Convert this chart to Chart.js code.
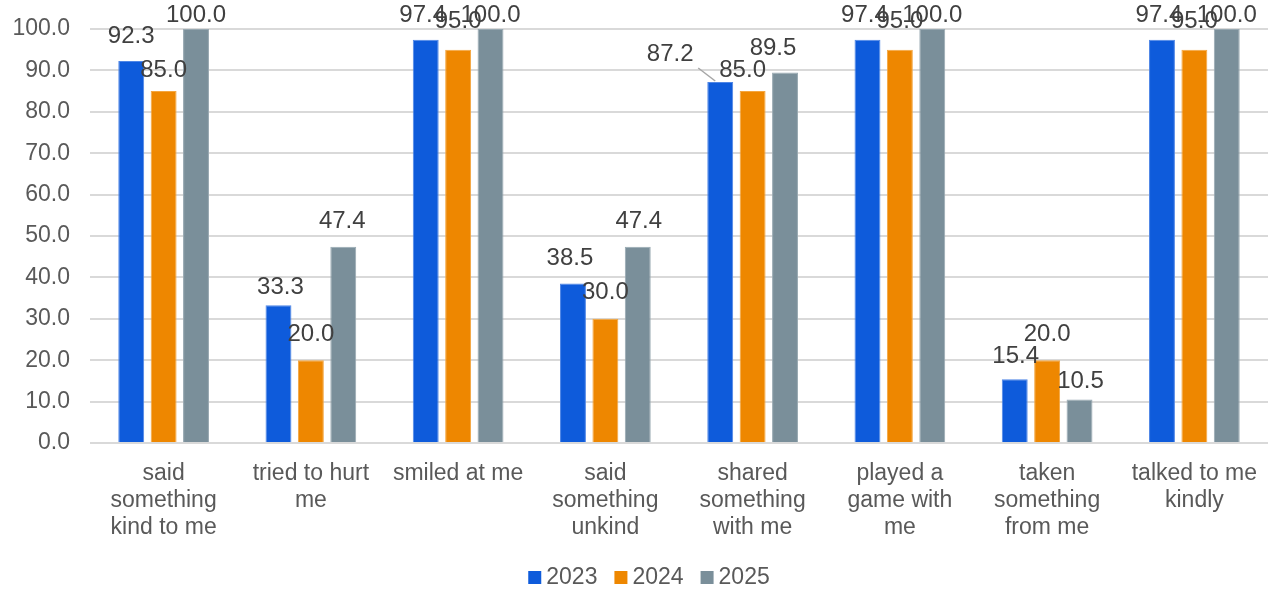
<!DOCTYPE html>
<html>
<head>
<meta charset="utf-8">
<script src="https://cdn.jsdelivr.net/npm/chart.js@4"></script>
<style>
  html, body { margin: 0; padding: 0; background: #fff; }
  #wrap { width: 1268px; height: 590px; }
</style>
</head>
<body>
<div id="wrap"><canvas id="behaviour_chart" width="1268" height="590"></canvas></div>
<script>
const categories = [
    ['said', 'something', 'kind to me'],
    ['tried to hurt', 'me'],
    ['smiled at me'],
    ['said', 'something', 'unkind'],
    ['shared', 'something', 'with me'],
    ['played a', 'game with', 'me'],
    ['taken', 'something', 'from me'],
    ['talked to me', 'kindly']
];
const years = ['2023', '2024', '2025'];
const values2023 = [92.3, 33.3, 97.4, 38.5, 87.2, 97.4, 15.4, 97.4];
const values2024 = [85.0, 20.0, 95.0, 30.0, 85.0, 95.0, 20.0, 95.0];
const values2025 = [100.0, 47.4, 100.0, 47.4, 89.5, 100.0, 10.5, 100.0];
const yTicks = [0, 10, 20, 30, 40, 50, 60, 70, 80, 90, 100];

const colours = ['#0e5bdb', '#ee8700', '#7a8f9a'];
const borders = ['#4f86e6', '#f4a640', '#98a9b2'];

// small hand nudges so labels sit where they do in the original (dx, dy)
const labelNudge = [
    [[0, 0], [2, 7], [-3, 0], [-3, 0], [-50, -3], [-3, 0], [1, 2], [-3, 0]],
    [[0, 4], [0, -1], [0, -3], [0, -1], [-10, 4], [0, -3], [0, -1], [0, -3]],
    [[0, 0], [-1, 0], [0, 0], [1, 0], [-12, 1], [0, 0], [1, 7], [0, 0]]
];

const FONT = "'Liberation Sans', Arial, sans-serif";

const valueLabels = {
    id: 'valueLabels',
    afterDatasetsDraw(chart) {
        const ctx = chart.ctx;
        ctx.save();
        ctx.font = '24px ' + FONT;
        ctx.fillStyle = '#404040';
        ctx.textAlign = 'center';
        ctx.textBaseline = 'middle';
        chart.data.datasets.forEach(function(ds, i) {
            chart.getDatasetMeta(i).data.forEach(function(bar, j) {
                const n = labelNudge[i][j];
                const lx = bar.x + n[0];
                const ly = Math.max(bar.y - 25, 15) + n[1];
                if (Math.abs(n[0]) > 20) {
                    ctx.strokeStyle = '#a6a6a6';
                    ctx.lineWidth = 1.5;
                    ctx.beginPath();
                    ctx.moveTo(lx + 28, ly + 14);
                    ctx.lineTo(bar.x - 5, bar.y - 1);
                    ctx.stroke();
                }
                ctx.fillText(ds.data[j].toFixed(1), lx, ly);
            });
        });
        ctx.restore();
    }
};

// legend drawn by hand: excel puts the text much closer to the swatch
const bottomLegend = {
    id: 'bottomLegend',
    afterDraw(chart) {
        const ctx = chart.ctx;
        ctx.save();
        ctx.font = '23px ' + FONT;
        ctx.textBaseline = 'middle';
        ctx.textAlign = 'left';
        const widths = years.map(function(y) { return ctx.measureText(y).width; });
        let total = 0;
        widths.forEach(function(w) { total += 13 + 5 + w; });
        total += 17 * (years.length - 1);
        let x = 649 - total / 2;
        const cy = 578;
        years.forEach(function(y, i) {
            ctx.fillStyle = colours[i];
            ctx.fillRect(x, cy - 7, 13, 13);
            ctx.fillStyle = '#595959';
            ctx.fillText(y, x + 18, cy);
            x += 18 + widths[i] + 17;
        });
        ctx.restore();
    }
};

const series = [values2023, values2024, values2025];

new Chart(document.getElementById('behaviour_chart'), {
    type: 'bar',
    data: {
        labels: categories,
        datasets: years.map(function(y, i) {
            return {
                label: y,
                data: series[i],
                backgroundColor: colours[i],
                borderColor: borders[i],
                borderWidth: 1,
                categoryPercentage: 0.66,
                barPercentage: 0.8
            };
        })
    },
    options: {
        responsive: false,
        animation: false,
        layout: { padding: { top: 29, right: 0, left: 0, bottom: 0 } },
        plugins: {
            tooltip: { enabled: false },
            legend: { display: false }
        },
        scales: {
            x: {
                grid: { display: false, drawTicks: false },
                border: { display: false },
                ticks: {
                    color: '#595959',
                    padding: 17,
                    maxRotation: 0,
                    autoSkip: false,
                    font: { family: FONT, size: 23, lineHeight: 1.17 }
                },
                afterFit: function(scale) {
                    scale.height = 147;
                    scale.paddingLeft = 0;
                    scale.paddingRight = 0;
                }
            },
            y: {
                min: 0,
                max: 100,
                afterBuildTicks: function(scale) {
                    scale.ticks = yTicks.map(function(v) { return { value: v }; });
                },
                grid: { color: '#d9d9d9', lineWidth: 2, drawTicks: false },
                border: { display: false },
                ticks: {
                    color: '#595959',
                    padding: 20,
                    font: { family: FONT, size: 23 },
                    callback: function(v) { return Number(v).toFixed(1); }
                },
                afterFit: function(scale) {
                    scale.width = 90;
                    scale.paddingTop = 0;
                    scale.paddingBottom = 0;
                }
            }
        }
    },
    plugins: [valueLabels, bottomLegend]
});
</script>
</body>
</html>
